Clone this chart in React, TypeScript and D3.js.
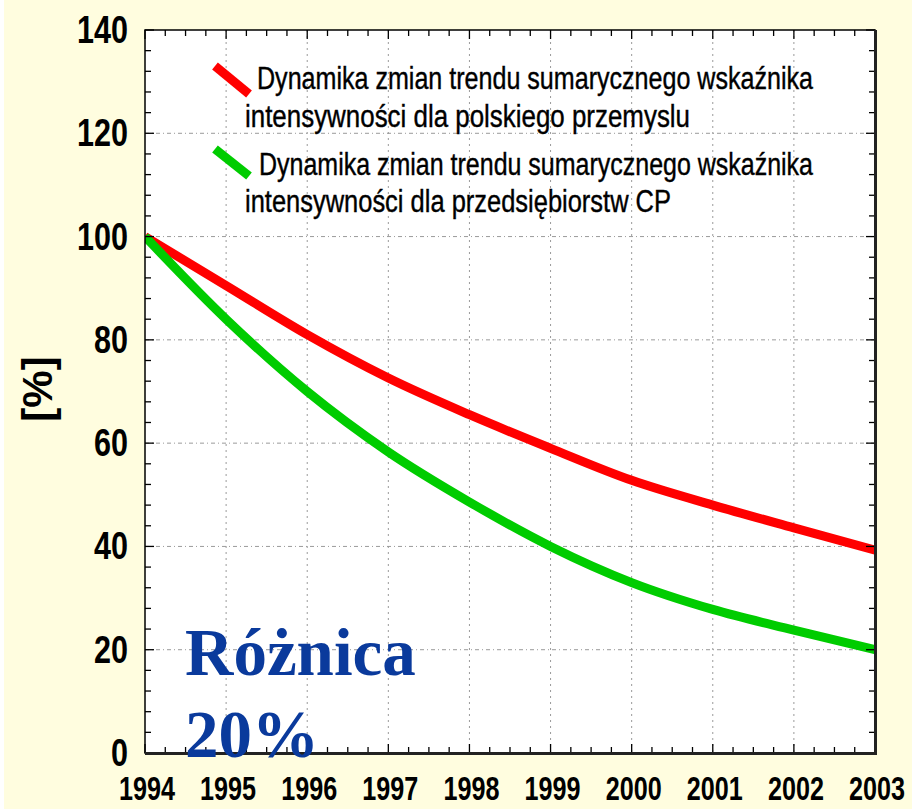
import React from 'react';
import * as d3 from 'd3';

const years = [1994, 1995, 1996, 1997, 1998, 1999, 2000, 2001, 2002, 2003];
const polandValues = [100, 90.5, 81, 72.6, 65.5, 59, 52.8, 48, 43.6, 39.3];
const cpValues = [100, 84, 70, 58.3, 48.6, 40, 33, 27.8, 23.8, 20];
const yTicks = [0, 20, 40, 60, 80, 100, 120, 140];
const legendLines = [
  'Dynamika zmian trendu sumarycznego wskaźnika',
  'intensywności dla polskiego przemyslu',
  'Dynamika zmian trendu sumarycznego wskaźnika',
  'intensywności dla przedsiębiorstw CP',
];
const yLabel = '[%]';
const noteLines = ['Różnica', '20%'];

const W = 912;
const H = 809;
const margin = { top: 30, right: 37, bottom: 56, left: 145 };

const App = () => {
  const x = d3.scaleLinear().domain([1994, 2003]).range([margin.left, W - margin.right]);
  const y = d3.scaleLinear().domain([0, 140]).range([H - margin.bottom, margin.top]);
  const [x0, x1] = x.range();
  const [y0, y1] = y.range(); // y0 bottom, y1 top

  const line = d3
    .line<number>()
    .x((_, i) => x(years[i]))
    .y((d) => y(d))
    .curve(d3.curveMonotoneX);

  const quarterTicks = d3.range(1994, 2003.001, 0.25);
  const minorY = d3.range(0, 140.001, 4);
  const grid = '#9a9a9a';
  const sans = "'Liberation Sans', Arial, sans-serif";

  return (
    <svg width={W} height={H} style={{ position: 'absolute', left: 0, top: 0, display: 'block' }}>
      <rect x={0} y={0} width={W} height={H} fill="#ffffff" />
      <rect x={4} y={0} width={W - 4} height={H} fill="#fffddf" />
      <defs>
        <clipPath id="plot">
          <rect x={x0} y={y1} width={x1 - x0} height={y0 - y1} />
        </clipPath>
      </defs>
      <rect x={x0} y={y1} width={x1 - x0} height={y0 - y1} fill="#ffffff" />

      {/* grid */}
      {years.slice(1, -1).map((yr) => (
        <line key={'gx' + yr} x1={x(yr)} x2={x(yr)} y1={y1} y2={y0} stroke={grid} strokeWidth={1} strokeDasharray="2,4" />
      ))}
      {yTicks.slice(1, -1).map((t) => (
        <line key={'gy' + t} x1={x0} x2={x1} y1={y(t)} y2={y(t)} stroke={grid} strokeWidth={1} strokeDasharray="4,3,1,3" />
      ))}

      {/* series */}
      <g clipPath="url(#plot)">
        <path d={line(polandValues) || ''} fill="none" stroke="#ff0000" strokeWidth={9} />
        <path d={line(cpValues) || ''} fill="none" stroke="#00cc00" strokeWidth={9} />
      </g>

      {/* ticks */}
      {quarterTicks.map((t) => {
        const major = Math.abs(t - Math.round(t)) < 1e-6;
        const len = major ? 9 : 6;
        return (
          <g key={'tx' + t}>
            <line x1={x(t)} x2={x(t)} y1={y0} y2={y0 - len} stroke="#000" strokeWidth={1.3} />
            <line x1={x(t)} x2={x(t)} y1={y1} y2={y1 + len} stroke="#000" strokeWidth={1.3} />
          </g>
        );
      })}
      {minorY.map((t) => {
        const len = t % 20 === 0 ? 9 : 6;
        return (
          <g key={'ty' + t}>
            <line x1={x0} x2={x0 + len} y1={y(t)} y2={y(t)} stroke="#000" strokeWidth={1.3} />
            <line x1={x1} x2={x1 - len} y1={y(t)} y2={y(t)} stroke="#000" strokeWidth={1.3} />
          </g>
        );
      })}

      {/* frame */}
      <rect x={x0} y={y1} width={x1 - x0} height={y0 - y1} fill="none" stroke="#000" strokeWidth={1.5} />
      <line x1={x0} x2={x1 + 1.5} y1={y0 + 0.5} y2={y0 + 0.5} stroke="#222" strokeWidth={3} />
      <line x1={x1 + 0.5} x2={x1 + 0.5} y1={y1} y2={y0 + 2} stroke="#222" strokeWidth={3} />

      {/* y tick labels */}
      {yTicks.map((t) => {
        const s = String(t);
        return (
          <text
            key={'ly' + t}
            transform={`translate(128,${y(t) + 13}) scale(0.78,1)`}
            textAnchor="end"
            fontFamily={sans}
            fontWeight="bold"
            fontSize={39}
            textLength={(s.length * 17) / 0.78}
            lengthAdjust="spacingAndGlyphs"
            fill="#000"
          >
            {s}
          </text>
        );
      })}

      {/* x tick labels */}
      {years.map((yr) => (
        <text
          key={'lx' + yr}
          transform={`translate(${x(yr) + 2},800) scale(0.74,1)`}
          textAnchor="middle"
          fontFamily={sans}
          fontWeight="bold"
          fontSize={34}
          textLength={56 / 0.74}
          lengthAdjust="spacingAndGlyphs"
          fill="#000"
        >
          {yr}
        </text>
      ))}

      {/* y axis title */}
      <text
        transform="translate(52,389) rotate(-90)"
        textAnchor="middle"
        fontFamily={sans}
        fontWeight="bold"
        fontSize={42}
        fill="#000"
      >
        {yLabel}
      </text>

      {/* legend */}
      <line x1={215} y1={66} x2={249} y2={94} stroke="#ff0000" strokeWidth={9} />
      <line x1={215} y1={149} x2={249} y2={176} stroke="#00cc00" strokeWidth={9} />
      {legendLines.map((txt, i) => {
        const xs = [257, 245, 259, 245];
        const ys = [89, 127, 175, 212];
        const ws = [556, 445, 554, 426];
        const k = 0.8;
        return (
          <text
            key={'lg' + i}
            transform={`translate(${xs[i]},${ys[i]}) scale(${k},1)`}
            fontFamily={sans}
            fontSize={31}
            textLength={ws[i] / k}
            lengthAdjust="spacingAndGlyphs"
            fill="#000"
            stroke="#000"
            strokeWidth={0.4}
          >
            {txt}
          </text>
        );
      })}

      {/* note */}
      {noteLines.map((txt, i) => (
        <text
          key={'nt' + i}
          x={185}
          y={675 + i * 82}
          fontFamily="'Liberation Serif', 'Times New Roman', serif"
          fontWeight="bold"
          fontSize={67}
          fill="#0a3a9c"
        >
          {txt}
        </text>
      ))}
    </svg>
  );
};

export default App;
